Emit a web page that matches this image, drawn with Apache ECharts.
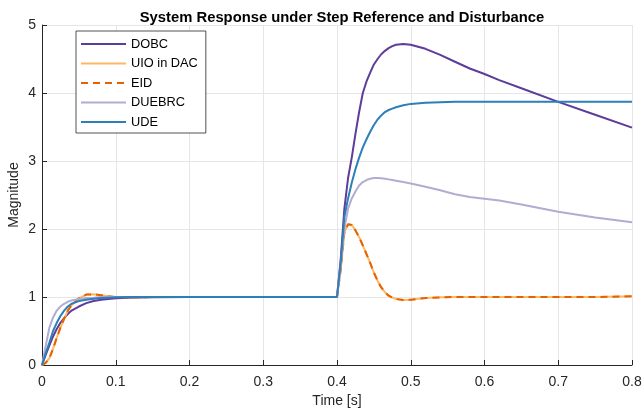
<!DOCTYPE html>
<html>
<head>
<meta charset="utf-8">
<script src="https://cdn.jsdelivr.net/npm/echarts@6/dist/echarts.min.js"></script>
<style>html,body{margin:0;padding:0;background:#fff;}#chart{width:643px;height:411px;}</style>
</head>
<body>
<div id="chart"></div>
<script>
var time = [0, 0.005, 0.01, 0.015, 0.02, 0.025, 0.03, 0.035, 0.04, 0.05, 0.06, 0.07, 0.08, 0.09, 0.1, 0.12, 0.15, 0.2, 0.3, 0.4,
  0.402, 0.405, 0.41, 0.415, 0.42, 0.425, 0.43, 0.435, 0.44, 0.445, 0.45, 0.455, 0.46, 0.465, 0.47, 0.475, 0.48, 0.49, 0.5,
  0.52, 0.54, 0.56, 0.58, 0.6, 0.62, 0.65, 0.7, 0.75, 0.8];
var dobc = [0, 0.15, 0.29, 0.42, 0.53, 0.62, 0.69, 0.75, 0.8, 0.86, 0.91, 0.94, 0.96, 0.97, 0.98, 0.99, 0.995, 1, 1, 1,
  1, 1.55, 2.3, 2.75, 3.05, 3.4, 3.72, 4.0, 4.17, 4.3, 4.42, 4.5, 4.57, 4.62, 4.66, 4.69, 4.71, 4.72, 4.71,
  4.65, 4.56, 4.46, 4.36, 4.28, 4.19, 4.07, 3.87, 3.68, 3.49];
var uio = [0, 0.03, 0.1, 0.24, 0.4, 0.55, 0.68, 0.8, 0.88, 0.98, 1.035, 1.04, 1.025, 1.01, 1.0, 0.995, 1.0, 1, 1, 1,
  1, 1.4, 1.95, 2.07, 2.06, 1.98, 1.88, 1.76, 1.63, 1.5, 1.36, 1.24, 1.14, 1.07, 1.02, 0.99, 0.97, 0.955, 0.96,
  0.985, 0.995, 1.0, 1.0, 1.0, 1.0, 1.0, 1.0, 1.0, 1.01];
var eid = [0, 0.03, 0.1, 0.24, 0.4, 0.55, 0.68, 0.8, 0.88, 0.98, 1.035, 1.04, 1.025, 1.01, 1.0, 0.995, 1.0, 1, 1, 1,
  1, 1.4, 1.95, 2.07, 2.06, 1.98, 1.88, 1.76, 1.63, 1.5, 1.36, 1.24, 1.14, 1.07, 1.02, 0.99, 0.97, 0.955, 0.96,
  0.985, 0.995, 1.0, 1.0, 1.0, 1.0, 1.0, 1.0, 1.0, 1.01];
var duebrc = [0, 0.28, 0.55, 0.7, 0.8, 0.86, 0.9, 0.93, 0.95, 0.97, 0.985, 0.99, 1.0, 1.0, 1.0, 1.0, 1.0, 1, 1, 1,
  1, 1.45, 2.0, 2.3, 2.45, 2.55, 2.64, 2.69, 2.72, 2.74, 2.75, 2.75, 2.745, 2.74, 2.73, 2.72, 2.71, 2.69, 2.67,
  2.62, 2.57, 2.51, 2.47, 2.445, 2.42, 2.36, 2.255, 2.17, 2.10];
var ude = [0, 0.17, 0.33, 0.5, 0.62, 0.72, 0.8, 0.86, 0.9, 0.94, 0.96, 0.975, 0.985, 0.99, 0.995, 1.0, 1.0, 1, 1, 1,
  1, 1.5, 2.18, 2.45, 2.68, 2.88, 3.05, 3.2, 3.32, 3.43, 3.53, 3.61, 3.67, 3.72, 3.75, 3.77, 3.79, 3.82, 3.84,
  3.855, 3.865, 3.87, 3.87, 3.87, 3.87, 3.87, 3.87, 3.87, 3.87];
var seriesNames = ['DOBC', 'UIO in DAC', 'EID', 'DUEBRC', 'UDE'];
var xTickLabels = ['0', '0.1', '0.2', '0.3', '0.4', '0.5', '0.6', '0.7', '0.8'];
var yTickLabels = ['0', '1', '2', '3', '4', '5'];

function pairs(vals) { return time.map(function (t, i) { return [t, vals[i]]; }); }
var font = 'Liberation Sans, Arial, Helvetica, sans-serif';
var axisCol = '#262626';

var chart = echarts.init(document.getElementById('chart'), null, {renderer: 'canvas'});
function mk(name, vals, color, width, dashed) {
  return {
    name: name, type: 'line', data: pairs(vals), showSymbol: false, symbol: 'none',
    lineStyle: {color: color, width: width, type: dashed ? [7, 5] : 'solid'},
    itemStyle: {color: color}, animation: false
  };
}
chart.setOption({
  animation: false,
  title: {
    text: 'System Response under Step Reference and Disturbance',
    left: 337, top: 5, textAlign: 'center',
    textStyle: {fontFamily: font, fontSize: 14.8, fontWeight: 'bold', color: '#000'}
  },
  grid: {left: 42, right: 11, top: 25, bottom: 46, containLabel: false, outerBoundsMode: 'none'},
  legend: {
    orient: 'vertical', left: 76, top: 31,
    data: seriesNames,
    itemWidth: 45, itemHeight: 13, itemGap: 6.5,
    padding: [6.5, 8, 4.5, 4],
    backgroundColor: '#fff', borderColor: axisCol, borderWidth: 0.8, borderRadius: 0,
    itemStyle: {opacity: 0},
    textStyle: {fontFamily: font, fontSize: 12.8, color: '#000'}
  },
  xAxis: {
    type: 'value', min: 0, max: 0.8, interval: 0.1,
    name: 'Time [s]', nameLocation: 'middle', nameGap: 29, nameMoveOverlap: false,
    nameTextStyle: {fontFamily: font, fontSize: 14, color: axisCol, verticalAlign: 'top'},
    axisLine: {show: true, onZero: false, lineStyle: {color: axisCol, width: 1}},
    axisTick: {show: true, inside: true, length: 5, lineStyle: {color: axisCol}},
    axisLabel: {fontFamily: font, fontSize: 14, color: axisCol, margin: 10,
      formatter: function (v) { return xTickLabels[Math.round(v * 10)]; }},
    splitLine: {show: true, lineStyle: {color: '#e6e6e6', width: 1}}
  },
  yAxis: {
    type: 'value', min: 0, max: 5, interval: 1,
    name: 'Magnitude', nameLocation: 'middle', nameGap: 21, nameMoveOverlap: false,
    nameTextStyle: {fontFamily: font, fontSize: 14, color: axisCol},
    axisLine: {show: true, onZero: false, lineStyle: {color: axisCol, width: 1}},
    axisTick: {show: true, inside: true, length: 5, lineStyle: {color: axisCol}},
    axisLabel: {fontFamily: font, fontSize: 14, color: axisCol, margin: 6,
      formatter: function (v) { return yTickLabels[Math.round(v)]; }},
    splitLine: {show: true, lineStyle: {color: '#e6e6e6', width: 1}}
  },
  series: [
    mk(seriesNames[0], dobc, '#5e3c99', 2, false),
    mk(seriesNames[1], uio, '#fdb863', 2, false),
    mk(seriesNames[2], eid, '#e66101', 2, true),
    mk(seriesNames[3], duebrc, '#b2abd2', 2, false),
    mk(seriesNames[4], ude, '#2c7fb8', 2, false)
  ]
});
</script>
</body>
</html>
